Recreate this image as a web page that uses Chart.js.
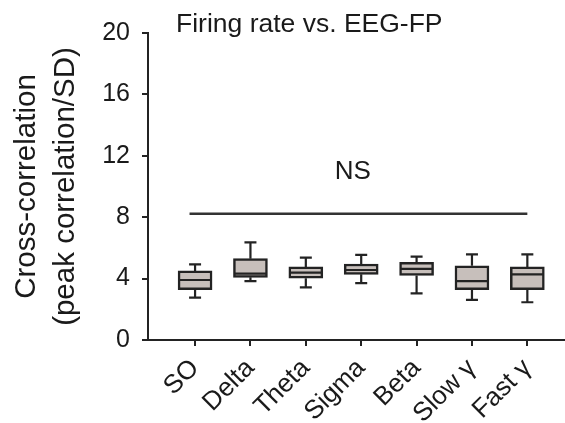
<!DOCTYPE html>
<html>
<head>
<meta charset="utf-8">
<script src="https://cdn.jsdelivr.net/npm/chart.js@4.4.0/dist/chart.umd.min.js"></script>
<style>
  html, body { margin: 0; padding: 0; background: #fff; }
  #wrap { width: 565px; height: 423px; position: relative; }
</style>
</head>
<body>
<div id="wrap"><canvas id="boxChart"></canvas></div>
<script>
const categories = ["SO", "Delta", "Theta", "Sigma", "Beta", "Slow γ", "Fast γ"];
const whiskerLow = [2.76, 3.84, 3.43, 3.71, 3.04, 2.61, 2.46];
const q1 = [3.28, 4.08, 4.02, 4.28, 4.21, 3.28, 3.28];
const median = [3.91, 4.32, 4.39, 4.56, 4.63, 3.84, 4.28];
const q3 = [4.50, 5.30, 4.76, 4.95, 5.06, 4.84, 4.76];
const whiskerHigh = [4.93, 6.36, 5.36, 5.54, 5.43, 5.58, 5.58];
const yTicks = [0, 4, 8, 12, 16, 20];

// significance bar
const nsSpan = [0.9, 7];
const nsLevel = 8.23;
const nsLabel = "NS";
const nsLabelAt = [3.85, 10.95];

const ink = "#232323";
const FONT = "'Liberation Sans', Arial, sans-serif";

const positions = categories.map((c, i) => i + 1);

// whiskers, caps, medians, NS text + title
const boxExtras = {
  id: "boxExtras",
  afterDatasetsDraw(chart) {
    const ctx = chart.ctx;
    const x = chart.scales.x, y = chart.scales.y;
    ctx.save();
    ctx.strokeStyle = ink;
    ctx.lineWidth = 2.2;
    positions.forEach((p, i) => {
      const cx = x.getPixelForValue(p);
      const half = 16;
      const cap = 6;
      ctx.beginPath();
      ctx.moveTo(cx, y.getPixelForValue(q3[i]));
      ctx.lineTo(cx, y.getPixelForValue(whiskerHigh[i]));
      ctx.moveTo(cx, y.getPixelForValue(q1[i]));
      ctx.lineTo(cx, y.getPixelForValue(whiskerLow[i]));
      ctx.moveTo(cx - cap, y.getPixelForValue(whiskerHigh[i]));
      ctx.lineTo(cx + cap, y.getPixelForValue(whiskerHigh[i]));
      ctx.moveTo(cx - cap, y.getPixelForValue(whiskerLow[i]));
      ctx.lineTo(cx + cap, y.getPixelForValue(whiskerLow[i]));
      ctx.moveTo(cx - half, y.getPixelForValue(median[i]));
      ctx.lineTo(cx + half, y.getPixelForValue(median[i]));
      ctx.stroke();
    });
    ctx.fillStyle = "#1a1a1a";
    ctx.font = "26px " + FONT;
    ctx.textAlign = "center";
    ctx.textBaseline = "middle";
    ctx.fillText(nsLabel, x.getPixelForValue(nsLabelAt[0]), y.getPixelForValue(nsLabelAt[1]));
    ctx.font = "26.5px " + FONT;
    ctx.textAlign = "left";
    ctx.textBaseline = "alphabetic";
    ctx.fillText("Firing rate vs. EEG-FP", 176, 32);
    ctx.restore();
  }
};

const config = {
  type: "bar",
  data: {
    datasets: [
      {
        type: "bar",
        data: positions.map((p, i) => ({ x: p, y: [q1[i], q3[i]] })),
        backgroundColor: "#c7bfbb",
        borderColor: ink,
        borderWidth: 2.5,
        borderSkipped: false,
        barThickness: 34,
      },
      {
        type: "line",
        data: nsSpan.map((v) => ({ x: v, y: nsLevel })),
        borderColor: "#333",
        borderWidth: 2.5,
        pointRadius: 0,
        fill: false,
      },
    ],
  },
  options: {
    responsive: true,
    maintainAspectRatio: false,
    animation: false,
    layout: { padding: { top: 33, right: 0, left: 0, bottom: 0 } },
    plugins: {
      legend: { display: false },
      tooltip: { enabled: false },
    },
    scales: {
      x: {
        type: "linear",
        offset: false,
        min: 0.15,
        max: 7.68,
        afterBuildTicks: (s) => { s.ticks = positions.map((v) => ({ value: v })); },
        afterFit: (s) => { s.height = 83; },
        ticks: {
          callback: (v) => categories[v - 1],
          minRotation: 45,
          maxRotation: 45,
          autoSkip: false,
          color: "#1a1a1a",
          font: { family: FONT, size: 26 },
          padding: 7,
        },
        grid: { offset: false, drawOnChartArea: false, drawTicks: true, tickLength: 6, color: ink, lineWidth: 2 },
        border: { display: true, color: ink, width: 2 },
      },
      y: {
        min: 0,
        max: 20,
        afterBuildTicks: (s) => { s.ticks = yTicks.map((v) => ({ value: v })); },
        afterFit: (s) => { s.width = 148; },
        ticks: {
          color: "#1a1a1a",
          font: { family: FONT, size: 25 },
          padding: 12,
        },
        grid: { drawOnChartArea: false, drawTicks: true, tickLength: 6, color: ink, lineWidth: 2 },
        border: { display: true, color: ink, width: 2 },
        title: {
          display: true,
          text: ["Cross-correlation", "(peak correlation/SD)"],
          color: "#1a1a1a",
          font: { family: FONT, size: 29.5, lineHeight: 1.3 },
          padding: { top: 8, bottom: 0 },
        },
      },
    },
  },
  plugins: [boxExtras],
};

const boxChart = new Chart(document.getElementById("boxChart"), config);
</script>
</body>
</html>
